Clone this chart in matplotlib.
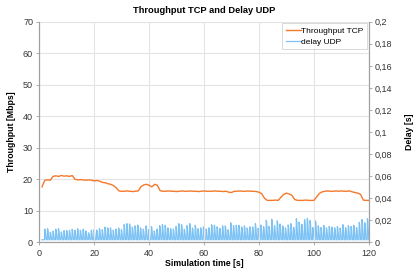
import matplotlib
matplotlib.use("Agg")
import matplotlib.pyplot as plt
import numpy as np
from matplotlib.ticker import FuncFormatter

plt.rcParams['font.family'] = ['Liberation Sans', 'DejaVu Sans']

# throughput TCP [Mbps], one value per second from t=1 to t=120
tcp_time = np.arange(1, 121)
tcp_thr = [17.6, 19.7, 19.8, 19.7, 20.9, 21.1, 20.9, 21.2, 21.0, 21.1,
           20.9, 21.2, 20.0, 19.8, 19.9, 19.8, 19.7, 19.8, 19.7, 19.5,
           19.6, 19.4, 19.0, 18.9, 18.6, 18.4, 18.0, 17.3, 16.3, 16.2,
           16.2, 16.3, 16.2, 16.1, 16.2, 16.3, 17.6, 18.2, 18.4, 18.1,
           17.6, 18.4, 18.1, 16.4, 16.2, 16.2, 16.3, 16.2, 16.2, 16.1,
           16.2, 16.3, 16.2, 16.2, 16.3, 16.2, 16.2, 16.1, 16.2, 16.3,
           16.2, 16.2, 16.2, 16.3, 16.2, 16.2, 16.1, 16.2, 15.9, 15.8,
           16.2, 16.2, 16.3, 16.2, 16.2, 16.3, 16.2, 16.2, 16.1, 15.9,
           15.4, 14.0, 13.3, 13.3, 13.3, 13.4, 13.3, 14.3, 15.2, 15.6,
           15.3, 14.9, 13.6, 13.3, 13.3, 13.3, 13.4, 13.3, 13.3, 13.3,
           14.4, 15.5, 16.0, 16.2, 16.3, 16.2, 16.2, 16.3, 16.2, 16.3,
           16.2, 16.2, 16.3, 16.0, 15.8, 15.6, 15.2, 13.4, 13.3, 13.3]

# UDP delay spikes: peak heights [s]
delay_peaks = [0.0120, 0.0123, 0.0091, 0.0100, 0.0120, 0.0123, 0.0094, 0.0106, 0.0106, 0.0109, 0.0117,
               0.0109, 0.0123, 0.0109, 0.0117, 0.0103, 0.0086, 0.0109, 0.0114,
               0.0111, 0.0123, 0.0114, 0.0137, 0.0131, 0.0131, 0.0109, 0.0120, 0.0129, 0.0114,
               0.0160, 0.0169, 0.0166, 0.0137, 0.0149, 0.0157, 0.0131, 0.0120, 0.0149, 0.0114,
               0.0143, 0.0103, 0.0120, 0.0151, 0.0160, 0.0154, 0.0131, 0.0123, 0.0120, 0.0143,
               0.0169, 0.0160, 0.0117, 0.0151, 0.0169, 0.0129, 0.0154, 0.0123, 0.0131, 0.0140,
               0.0120, 0.0131, 0.0160, 0.0154, 0.0140, 0.0126, 0.0149, 0.0149, 0.0114, 0.0177,
               0.0151, 0.0154, 0.0154, 0.0140, 0.0149, 0.0129, 0.0140, 0.0140, 0.0169, 0.0126,
               0.0157, 0.0143, 0.0200, 0.0143, 0.0209, 0.0151, 0.0194, 0.0166, 0.0149, 0.0131,
               0.0157, 0.0169, 0.0137, 0.0214, 0.0183, 0.0163, 0.0206, 0.0217, 0.0197, 0.0134,
               0.0194, 0.0149, 0.0134, 0.0154, 0.0131, 0.0143, 0.0137, 0.0131, 0.0143, 0.0129,
               0.0160, 0.0134, 0.0151, 0.0143, 0.0154, 0.0134, 0.0180, 0.0206, 0.0177, 0.0214]
delay_base = 0.0023
peak_times = np.linspace(2.0, 119.5, len(delay_peaks))

# build the spiky delay trace from the peaks
d_t = [1.0]
d_v = [delay_base]
for t, p in zip(peak_times, delay_peaks):
    d_t += [t - 0.1, t, t + 0.15, t + 0.5]
    d_v += [delay_base, p, p * 0.9, delay_base]
d_t.append(120)
d_v.append(delay_base)

orange = '#f4792b'
blue = '#7cc2f5'
grid_c = '#e4e4e4'
axis_c = '#a0a0a0'

fig = plt.figure(figsize=(4.15, 2.7), dpi=100)
ax = fig.add_axes([0.0947, 0.1026, 0.794, 0.817])
ax2 = ax.twinx()

l2, = ax2.plot(d_t, d_v, color=blue, lw=0.9, label='delay UDP')
l1, = ax.plot(tcp_time, tcp_thr, color=orange, lw=1.0, label='Throughput TCP')
ax.set_zorder(ax2.get_zorder() + 1)
ax.patch.set_visible(False)

ax.set_xlim(0, 120)
ax.set_ylim(0, 70)
ax2.set_ylim(0, 0.2)
ax.set_xticks(range(0, 121, 20))
ax.set_yticks(range(0, 71, 10))
ax2.set_yticks(np.arange(0, 0.2001, 0.02))
ax2.yaxis.set_major_formatter(FuncFormatter(
    lambda v, p: '0' if abs(v) < 1e-9 else ('%g' % round(v, 2)).replace('.', ',')))

ax.grid(True, color=grid_c, lw=0.8)
ax.set_axisbelow(True)

for a in (ax, ax2):
    for s in a.spines.values():
        s.set_color(axis_c)
        s.set_linewidth(0.8)
    a.spines['top'].set_visible(False)
    a.tick_params(colors='#333333', labelsize=6.5, length=2.5, width=0.6, pad=2, color=axis_c)

ax.set_title('Throughput TCP and Delay UDP', fontsize=6.7, fontweight='bold', pad=6)
ax.set_xlabel('Simulation time [s]', fontsize=6.3, fontweight='bold', labelpad=1)
ax.set_ylabel('Throughput [Mbps]', fontsize=6.3, fontweight='bold', labelpad=5)
ax2.set_ylabel('Delay [s]', fontsize=6.3, fontweight='bold', labelpad=9)

leg = ax.legend(handles=[l1, l2], loc='upper right', fontsize=6, frameon=True,
                fancybox=False, handlelength=1.8, handletextpad=0.1, borderpad=0.4,
                labelspacing=0.4, borderaxespad=0.2)
leg.get_frame().set_edgecolor('#c8c8c8')
leg.get_frame().set_linewidth(0.6)

fig.savefig('out.png', dpi=100)
